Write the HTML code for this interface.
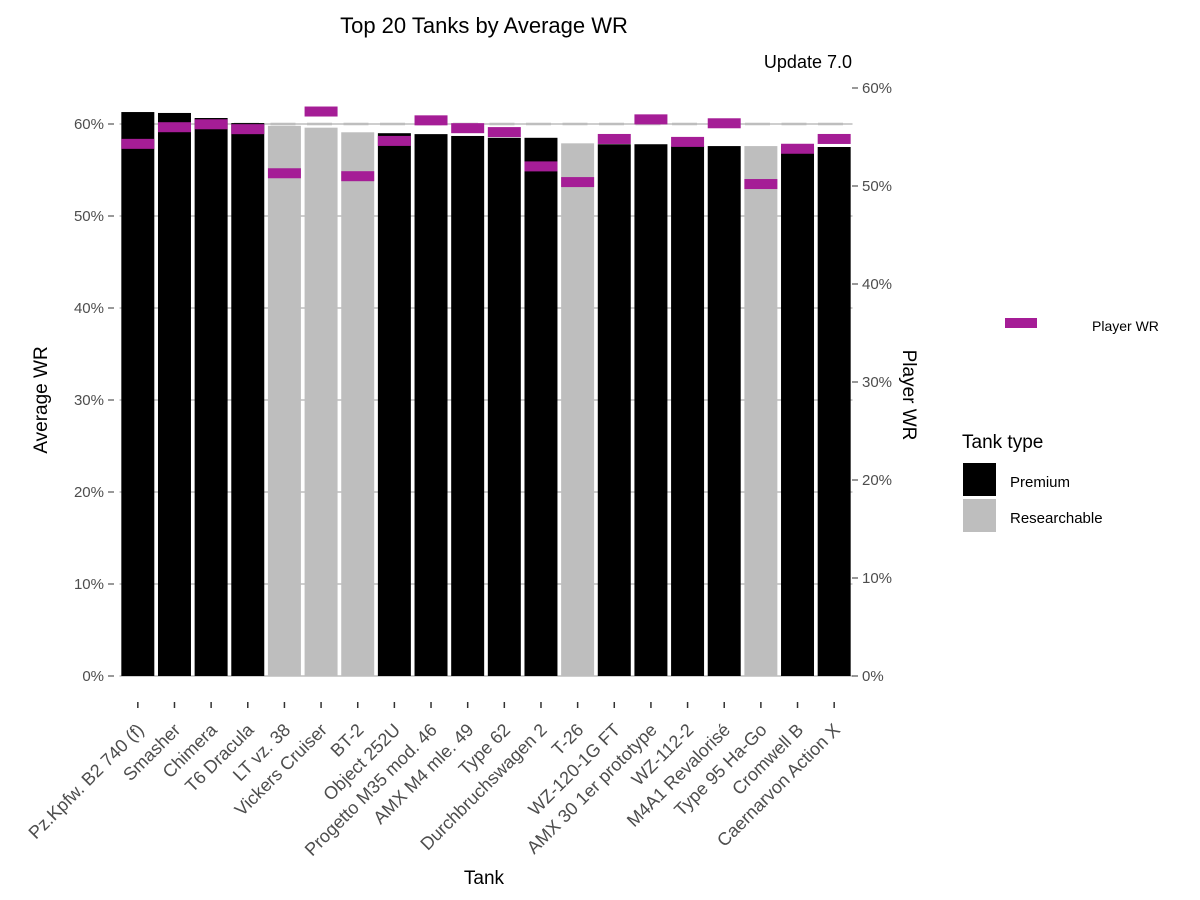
<!DOCTYPE html>
<html><head><meta charset="utf-8"><style>body{margin:0;background:#fff}svg{display:block;font-family:"Liberation Sans",Arial,sans-serif}</style></head>
<body>
<svg id="c" width="1200" height="900"></svg>
<script>
const tanks=["Pz.Kpfw. B2 740 (f)","Smasher","Chimera","T6 Dracula","LT vz. 38","Vickers Cruiser","BT-2","Object 252U","Progetto M35 mod. 46","AMX M4 mle. 49","Type 62","Durchbruchswagen 2","T-26","WZ-120-1G FT","AMX 30 1er prototype","WZ-112-2","M4A1 Revalorisé","Type 95 Ha-Go","Cromwell B","Caernarvon Action X"];
const types=["P","P","P","P","R","R","R","P","P","P","P","P","R","P","P","P","P","R","P","P"];
const avgWR=[61.3,61.2,60.65,60.1,59.8,59.6,59.1,59.0,58.9,58.7,58.5,58.5,57.9,57.8,57.8,57.6,57.6,57.6,57.6,57.5];
const playerWR=[54.3,56.0,56.3,55.8,51.3,57.6,51.0,54.6,56.7,55.9,55.5,52.0,50.4,54.8,56.8,54.5,56.4,50.2,53.8,54.8];
const leftTicks=[0,10,20,30,40,50,60];
const rightTicks=[0,10,20,30,40,50,60];
const svg=document.getElementById('c');const NS='http://www.w3.org/2000/svg';
function mk(t,a,p,txt){const e=document.createElementNS(NS,t);for(const k in a)e.setAttribute(k,a[k]);if(txt!=null)e.textContent=txt;(p||svg).appendChild(e);return e;}
const x0=119.5,x1=852.5,band=(x1-x0)/tanks.length;
const xc=i=>x0+band*(i+0.5);
const yL=v=>676-v*9.2;
const yR=v=>676-v*9.8;
leftTicks.forEach(t=>{const g=mk('line',{x1:x0,x2:x1,y1:yL(t),y2:yL(t),stroke:'#bebebe','stroke-width':1.5});

const l=mk('text',{x:104,y:yL(t)+5,'text-anchor':'end','font-size':15,fill:'#4d4d4d'},null,t+'%');

mk('line',{x1:108,x2:114,y1:yL(t),y2:yL(t),stroke:'#333','stroke-width':1});});
rightTicks.forEach(t=>{mk('line',{x1:852,x2:858,y1:yR(t),y2:yR(t),stroke:'#333','stroke-width':1});
const l=mk('text',{x:862,y:yR(t)+5,'font-size':15,fill:'#4d4d4d'},null,t+'%');
});
const hl=mk('line',{x1:x0,x2:x1,y1:yL(60),y2:yL(60),stroke:'#bebebe','stroke-width':2.5,'stroke-dasharray':'25,11.5','stroke-dashoffset':'-5'});

const bw=band*0.9;
tanks.forEach((n,i)=>{const r=mk('rect',{x:xc(i)-bw/2,y:yL(avgWR[i]),width:bw,height:676-yL(avgWR[i]),fill:types[i]=='P'?'#000':'#bebebe'});
});
tanks.forEach((n,i)=>{const r=mk('rect',{x:xc(i)-bw/2,y:yR(playerWR[i])-5,width:bw,height:10,fill:'#a51d96'});

mk('line',{x1:xc(i),x2:xc(i),y1:702,y2:708,stroke:'#333','stroke-width':1.5});
const t=mk('text',{transform:`translate(${xc(i)+7},731) rotate(-45)`,'text-anchor':'end','font-size':18,fill:'#4d4d4d'},null,n);
});
function T(x,y,s,txt,name,extra){const e=mk('text',Object.assign({x:x,y:y,'font-size':s,fill:'#000'},extra||{}),null,txt);return e;}
T(484,33,22,'Top 20 Tanks by Average WR','chart-title',{'text-anchor':'middle'});
T(852,68,18,'Update 7.0','subtitle',{'text-anchor':'end'});
T(484,884,19,'Tank','x-axis-title',{'text-anchor':'middle'});
T(0,0,19,'Average WR','y-axis-title',{'text-anchor':'middle',transform:'translate(47,400) rotate(-90)'});
T(0,0,19,'Player WR','y2-axis-title',{'text-anchor':'middle',transform:'translate(903,395) rotate(90)'});
const lk=mk('rect',{x:1005,y:318,width:32,height:10,fill:'#a51d96'});
T(1092,331,14,'Player WR','legend-player-wr-label');
T(962,448,19,'Tank type','legend-title');
const k1=mk('rect',{x:963,y:463,width:33,height:33,fill:'#000'});
const k2=mk('rect',{x:963,y:499,width:33,height:33,fill:'#bebebe'});
T(1010,487,15,'Premium','legend-premium-label');
T(1010,523,15,'Researchable','legend-researchable-label');
</script>
</body></html>
